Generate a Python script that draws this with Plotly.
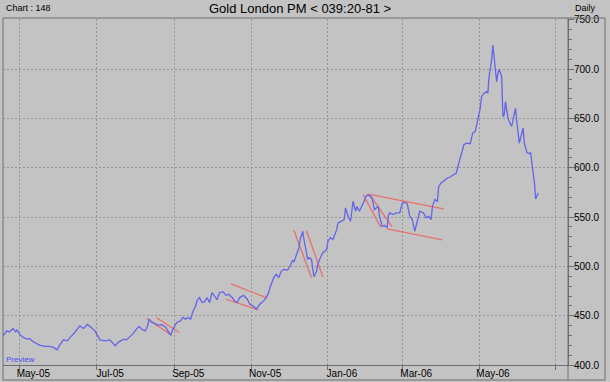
import plotly.graph_objects as go

# ---- price series (Gold London PM, daily) ----
dates = [
    "2005-04-18", "2005-04-21", "2005-04-23", "2005-04-26", "2005-04-28", "2005-04-29",
    "2005-05-02", "2005-05-04", "2005-05-07", "2005-05-09", "2005-05-12", "2005-05-15",
    "2005-05-17", "2005-05-21", "2005-05-25", "2005-05-28", "2005-05-31", "2005-06-02",
    "2005-06-05", "2005-06-08", "2005-06-10", "2005-06-12", "2005-06-14", "2005-06-18",
    "2005-06-21", "2005-06-24", "2005-06-27", "2005-06-30", "2005-07-04", "2005-07-08",
    "2005-07-12", "2005-07-16", "2005-07-19",
    "2005-07-23", "2005-07-25", "2005-07-28", "2005-07-30", "2005-08-02", "2005-08-04",
    "2005-08-07", "2005-08-09", "2005-08-11", "2005-08-12", "2005-08-14", "2005-08-17",
    "2005-08-19", "2005-08-22", "2005-08-25", "2005-08-27", "2005-08-29", "2005-08-31",
    "2005-09-03", "2005-09-06", "2005-09-08", "2005-09-10", "2005-09-12", "2005-09-14",
    "2005-09-16", "2005-09-18", "2005-09-19", "2005-09-21", "2005-09-23", "2005-09-25",
    "2005-09-27", "2005-09-29", "2005-10-01", "2005-10-03", "2005-10-05", "2005-10-07",
    "2005-10-10", "2005-10-12", "2005-10-14", "2005-10-17", "2005-10-19", "2005-10-21",
    "2005-10-23", "2005-10-26", "2005-10-29", "2005-10-31", "2005-11-03", "2005-11-05",
    "2005-11-08", "2005-11-11", "2005-11-13", "2005-11-15",
    "2005-11-16", "2005-11-19", "2005-11-21", "2005-11-23", "2005-11-25", "2005-11-27",
    "2005-11-30", "2005-12-02", "2005-12-04", "2005-12-05", "2005-12-07", "2005-12-09",
    "2005-12-10", "2005-12-12", "2005-12-13", "2005-12-15", "2005-12-16", "2005-12-17",
    "2005-12-19", "2005-12-20", "2005-12-21", "2005-12-23", "2005-12-24", "2005-12-26",
    "2005-12-28", "2005-12-31", "2006-01-01", "2006-01-03", "2006-01-05", "2006-01-08",
    "2006-01-09", "2006-01-12", "2006-01-14", "2006-01-15", "2006-01-17", "2006-01-19",
    "2006-01-21", "2006-01-23", "2006-01-24", "2006-01-26", "2006-01-28", "2006-01-30",
    "2006-01-31", "2006-02-02", "2006-02-05", "2006-02-07", "2006-02-10", "2006-02-11",
    "2006-02-13", "2006-02-15", "2006-02-17", "2006-02-18", "2006-02-19", "2006-02-22",
    "2006-02-24", "2006-02-27", "2006-03-01", "2006-03-02", "2006-03-05", "2006-03-07",
    "2006-03-09", "2006-03-11", "2006-03-13", "2006-03-15", "2006-03-18", "2006-03-20",
    "2006-03-22", "2006-03-24", "2006-03-25", "2006-03-27", "2006-03-29", "2006-03-30",
    "2006-04-01", "2006-04-04", "2006-04-06", "2006-04-08", "2006-04-11", "2006-04-13",
    "2006-04-15", "2006-04-17", "2006-04-19", "2006-04-21", "2006-04-24", "2006-04-26",
    "2006-04-28", "2006-04-30", "2006-05-02",
    "2006-05-03", "2006-05-05", "2006-05-07", "2006-05-08", "2006-05-09", "2006-05-11",
    "2006-05-12", "2006-05-13", "2006-05-15", "2006-05-16", "2006-05-17", "2006-05-19",
    "2006-05-20", "2006-05-21", "2006-05-22", "2006-05-24", "2006-05-26", "2006-05-27",
    "2006-05-28", "2006-05-30", "2006-05-31", "2006-06-02", "2006-06-04", "2006-06-05",
    "2006-06-06", "2006-06-08", "2006-06-10", "2006-06-11", "2006-06-12", "2006-06-14",
    "2006-06-15", "2006-06-17",
]
prices = [
    429.6, 434.6, 433.6, 437.1, 433.6, 435.6,
    430.3, 428.0, 426.2, 426.9, 423.5, 421.2,
    420.2, 418.9, 418.9, 417.8, 415.4, 420.2,
    425.5, 424.5, 426.9, 430.3, 433.0, 439.7,
    437.1, 441.1, 438.1, 434.6, 425.5, 424.5,
    425.5, 419.5, 423.5,
    426.2, 425.5, 429.0, 431.3, 436.4, 439.1,
    435.6, 434.6, 440.4, 446.5, 443.7, 441.4,
    440.4, 440.9, 438.6, 434.6, 430.3, 436.4,
    443.1, 444.7, 448.2, 446.5, 448.2, 446.5,
    454.9, 459.9, 465.0, 468.4, 463.3, 464.0,
    468.4, 463.3, 473.5, 470.0, 466.2, 473.5,
    474.1, 470.7, 471.7, 468.4, 465.0, 463.3,
    468.4, 470.7, 466.7, 461.6, 459.6, 456.6,
    461.6, 465.0, 468.4, 473.5,
    478.5, 488.6, 492.0, 488.6, 495.3, 497.0,
    496.3, 500.4, 506.4, 504.4, 512.2, 519.0,
    527.3, 535.7, 527.3, 515.5, 507.1, 508.8,
    507.1, 497.0, 489.6, 495.3, 502.1, 508.8,
    513.9, 517.2, 525.6, 529.1, 527.3, 537.5,
    544.2, 545.9, 547.6, 559.4, 550.9, 545.9,
    566.1, 556.0, 561.0, 556.0, 561.0, 566.8,
    570.8, 572.8, 569.5, 557.7, 561.0, 550.9,
    540.8, 541.5, 539.2, 550.9, 554.3, 552.6,
    554.3, 554.3, 563.7, 565.1, 563.7, 550.9,
    547.6, 535.7, 545.9, 556.0, 554.3, 549.3,
    550.9, 547.6, 561.0, 567.8, 566.1, 581.2,
    584.7, 588.0, 589.7, 590.7, 593.1, 594.8,
    604.9, 613.3, 623.4, 625.1, 624.4, 635.2,
    636.9, 648.7, 660.5,
    672.2, 675.7, 677.3, 675.7, 692.5, 709.3,
    724.5, 712.7, 687.4, 695.9, 699.9, 692.5,
    652.0, 653.7, 667.2, 650.4, 643.6, 642.6,
    648.7, 660.5, 647.0, 625.1, 635.2, 640.3,
    625.1, 615.6, 614.3, 615.6, 604.9, 584.7,
    568.5, 574.6,
]

# ---- hand-drawn trend lines (start / end points) ----
trend_start_dates = ["2005-08-10", "2005-08-18", "2005-10-16", "2005-10-12", "2005-12-05",
                     "2005-12-15", "2006-01-29", "2006-02-03", "2006-02-03", "2006-02-17"]
trend_start_vals = [447.2, 447.9, 482.3, 466.7, 536.7, 536.2, 572.8, 573.2, 573.2, 538.2]
trend_end_dates = ["2005-08-30", "2005-09-05", "2005-11-13", "2005-11-07", "2005-12-19",
                   "2005-12-28", "2006-02-12", "2006-02-21", "2006-04-03", "2006-04-02"]
trend_end_vals = [430.3, 433.0, 468.4, 455.9, 488.6, 489.6, 539.7, 540.3, 558.4, 527.0]

# ---- axis ticks ----
x_tick_dates = ["2005-05-01", "2005-07-01", "2005-09-01", "2005-11-01",
                "2006-01-01", "2006-03-01", "2006-05-01", "2006-07-01"]
x_tick_labels = ["May-05", "Jul-05", "Sep-05", "Nov-05", "Jan-06", "Mar-06", "May-06", ""]
y_tick_vals = [400, 450, 500, 550, 600, 650, 700, 750]

BG = "#c3c3c3"
FRAME = "#6e6e6e"
GRID = "#959595"
FONT = "Liberation Sans, Arial, sans-serif"

tx, ty = [], []
for sd, sv, ed, ev in zip(trend_start_dates, trend_start_vals, trend_end_dates, trend_end_vals):
    tx += [sd, ed, None]
    ty += [sv, ev, None]

fig = go.Figure()
fig.add_trace(go.Scatter(x=tx, y=ty, mode="lines",
                         line=dict(color="#e8706c", width=1.3), hoverinfo="skip"))
fig.add_trace(go.Scatter(x=dates, y=prices, mode="lines",
                         line=dict(color="#6464ea", width=1.3)))

W, H = 610, 382
ML, MR, MT, MB = 3, 42, 19, 17
PW, PH = W - ML - MR, H - MT - MB


def px(x):
    return (x - ML) / PW


def py(y):
    return (H - MB - y) / PH


fig.update_layout(
    width=W, height=H,
    margin=dict(l=ML, r=MR, t=MT, b=MB, pad=0, autoexpand=False),
    paper_bgcolor=BG, plot_bgcolor=BG,
    showlegend=False,
    font=dict(family=FONT, size=10, color="#000000"),
    xaxis=dict(
        type="date", automargin=False,
        range=["2005-04-18", "2006-07-10 16:00"],
        tickvals=x_tick_dates, ticktext=x_tick_labels,
        showgrid=True, gridcolor=GRID, griddash="2px,2px", gridwidth=1,
        showline=True, linecolor=FRAME, linewidth=1,
        ticks="outside", ticklen=4, tickcolor=FRAME,
        ticklabelshift=14, ticklabelstandoff=-5,
        tickfont=dict(family=FONT, size=10, color="#000000"),
        zeroline=False,
    ),
    yaxis=dict(
        side="right", automargin=False,
        range=[400, 751],
        tickvals=y_tick_vals, tickformat=".1f",
        showgrid=True, gridcolor=GRID, griddash="2px,2px", gridwidth=1,
        showline=True, linecolor=FRAME, linewidth=1,
        ticks="outside", ticklen=5, tickcolor=FRAME,
        ticklabelstandoff=-2,
        minor=dict(tick0=400, dtick=10, ticks="outside", ticklen=3,
                   tickcolor=FRAME, showgrid=False),
        tickfont=dict(family=FONT, size=10, color="#000000"),
        zeroline=False,
    ),
    shapes=[
        dict(type="rect", xref="paper", yref="paper",
             x0=px(3), x1=px(605), y0=py(380), y1=py(18),
             line=dict(color=FRAME, width=1), layer="above"),
        dict(type="line", xref="paper", yref="paper",
             x0=1, x1=1, y0=py(380), y1=py(18),
             line=dict(color=FRAME, width=1), layer="above"),
    ],
    annotations=[
        dict(text="Gold London PM < 039:20-81 >", xref="paper", yref="paper",
             x=px(300), y=py(9), xanchor="center", yanchor="middle", showarrow=False,
             font=dict(family=FONT, size=13, color="#000000")),
        dict(text="Chart : 148", xref="paper", yref="paper",
             x=px(4), y=py(8), xanchor="left", yanchor="middle", showarrow=False,
             font=dict(family=FONT, size=9, color="#000000")),
        dict(text="Daily", xref="paper", yref="paper",
             x=px(598), y=py(8), xanchor="right", yanchor="middle", showarrow=False,
             font=dict(family=FONT, size=9, color="#000000")),
        dict(text="Preview", xref="paper", yref="paper",
             x=px(4), y=py(359), xanchor="left", yanchor="middle", showarrow=False,
             font=dict(family=FONT, size=8, color="#4a4af0")),
    ],
)

fig.write_html(
    "out.html",
    config={"displayModeBar": False},
    post_script="document.body.style.margin='0';document.body.style.overflow='hidden';",
)
